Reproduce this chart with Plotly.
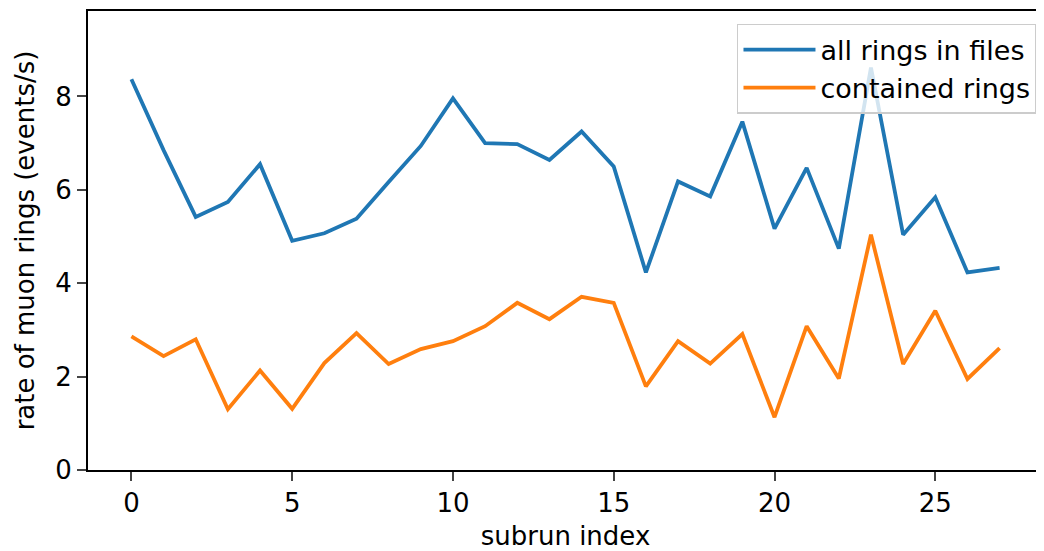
import plotly.graph_objects as go

subrun = list(range(28))
all_rings = [8.37, 6.85, 5.42, 5.74, 6.55, 4.91, 5.07, 5.38, 6.17, 6.94,
             7.96, 7.00, 6.98, 6.64, 7.25, 6.50, 4.23, 6.18, 5.86, 7.46,
             5.17, 6.47, 4.74, 8.62, 5.04, 5.84, 4.23, 4.33]
contained = [2.86, 2.44, 2.80, 1.30, 2.13, 1.31, 2.29, 2.93, 2.27, 2.59,
             2.76, 3.08, 3.58, 3.23, 3.71, 3.58, 1.79, 2.76, 2.28, 2.91,
             1.13, 3.08, 1.96, 5.04, 2.27, 3.41, 1.95, 2.61]
x_ticks = [0, 5, 10, 15, 20, 25]
y_ticks = [0, 2, 4, 6, 8]

fig = go.Figure()
fig.add_trace(go.Scatter(x=subrun, y=all_rings, mode="lines", name="all rings in files",
                         line=dict(color="#1f77b4", width=3.8)))
fig.add_trace(go.Scatter(x=subrun, y=contained, mode="lines", name="contained rings",
                         line=dict(color="#ff7f0e", width=3.8)))

font = "DejaVu Sans"
fs = 26
# the page body adds an 8px offset; the figure is sized to fill the rest of the window
fig.update_layout(
    width=1036, height=543,
    margin=dict(l=80, r=1, t=3, b=81, autoexpand=False),
    plot_bgcolor="white", paper_bgcolor="white",
    font=dict(family=font, size=fs, color="black"),
    showlegend=True,
    legend=dict(x=0.9937, xanchor="right", y=0.9717, yanchor="top",
                bgcolor="rgba(255,255,255,0.8)", bordercolor="#cccccc", borderwidth=1.5,
                font=dict(family=font, size=27), itemwidth=72, tracegroupgap=0),
)
fig.update_xaxes(range=[-1.35, 28.35], tickvals=x_ticks, ticks="outside", ticklen=9,
                 tickwidth=2, showgrid=False, zeroline=False, showline=True,
                 linecolor="black", linewidth=2, mirror=True, automargin=False,
                 tickfont=dict(family=font, size=fs),
                 title=dict(text="subrun index", standoff=11, font=dict(family=font, size=fs)))
fig.update_yaxes(range=[0, 9.83], tickvals=y_ticks, ticks="outside", ticklen=9,
                 tickwidth=2, showgrid=False, zeroline=False, showline=True,
                 linecolor="black", linewidth=2, mirror=True, automargin=False,
                 tickfont=dict(family=font, size=fs),
                 title=dict(text="rate of muon rings (events/s)", standoff=13,
                            font=dict(family=font, size=fs)))

fig.write_html("out.html")
